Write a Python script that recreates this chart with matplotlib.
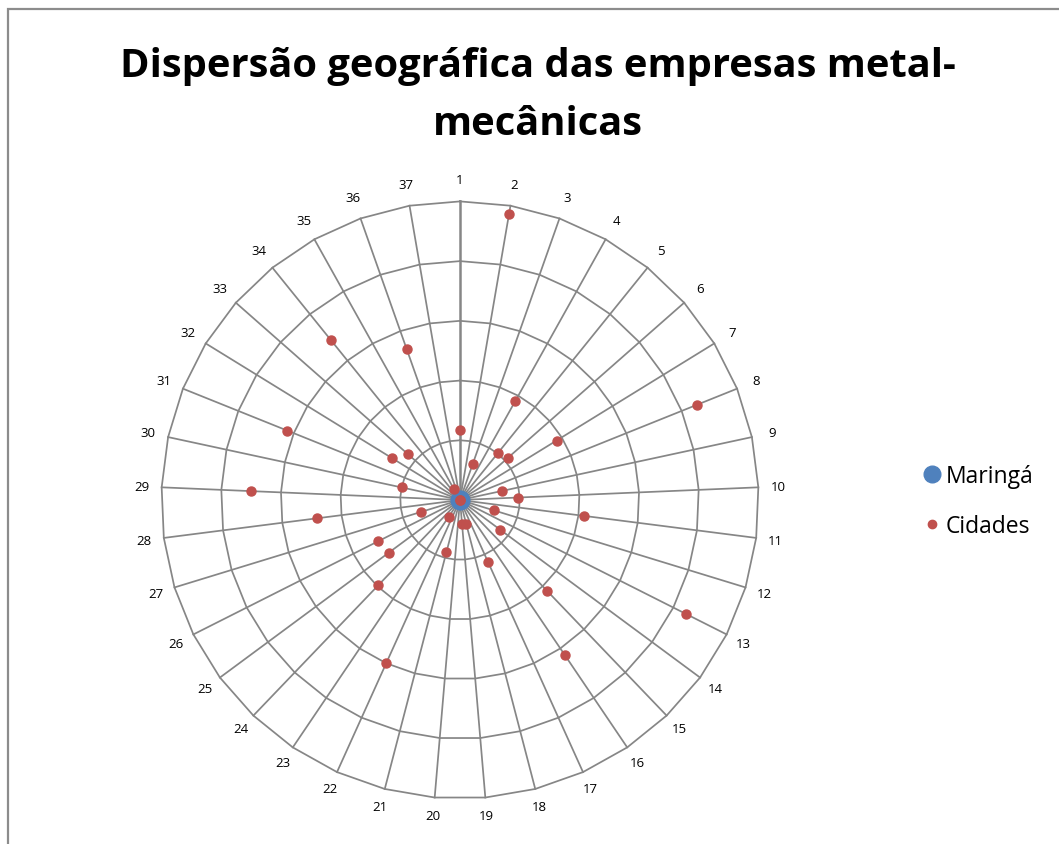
import numpy as np
import matplotlib
matplotlib.use("Agg")
import matplotlib.pyplot as plt
from matplotlib.patches import Rectangle
from matplotlib.lines import Line2D

plt.rcParams['font.family'] = ['Open Sans', 'DejaVu Sans']

# Categories around the radar (1..37)
categories = [str(i) for i in range(1, 38)]

# Distance of each city from the centre (same units as the grid rings)
cidades = [59, 243, 32, 95, 51, 53, 95, 214, 36, 49,
           105, 30, 212, 42, 105, 157, 57, 21, 20, 0,
           45, 150, 17, 99, 74, 77, 34, 121, 175, 50,
           156, 67, 58, 172, 11, 134, 0]

# Maringá sits at the origin
maringa = [0]

ring_values = [50, 100, 150, 200, 250]
r_max = 250

title_lines = ['Dispersão geográfica das empresas metal-', 'mecânicas']

grid_color = '#868686'
red = '#C0504D'
blue = '#4F81BD'

W, H = 1059, 845
fig = plt.figure(figsize=(W / 100, H / 100), dpi=100)

# Outer frame (left and top edges visible)
fig.add_artist(Rectangle((7.5 / W, -0.05), 1.2, 1 - 10 / H + 0.05,
                         transform=fig.transFigure, fill=False,
                         edgecolor='#8c8c8c', lw=1.6))

cx, cy, R = 460, 501, 298.6
ax = fig.add_axes([(cx - R) / W, (H - cy - R) / H, 2 * R / W, 2 * R / H],
                  projection='polar')
ax.set_theta_zero_location('N')
ax.set_theta_direction(-1)
ax.set_ylim(0, r_max)
ax.grid(False)
ax.set_xticks([])
ax.set_yticks([])
ax.spines['polar'].set_visible(False)
ax.patch.set_visible(False)

n = len(categories)
theta = np.arange(n) * 2 * np.pi / n
theta_closed = np.append(theta, theta[0])

# Polygonal rings
for rv in ring_values:
    ax.plot(theta_closed, [rv] * (n + 1), color=grid_color, lw=1.25,
            zorder=1, clip_on=False)
# Spokes
for i, t in enumerate(theta):
    ax.plot([t, t], [0, r_max], color=grid_color,
            lw=1.8 if i == 0 else 1.25, zorder=1, clip_on=False)

# Category labels outside the outer ring
px_per_unit = R / r_max
for t, lab in zip(theta, categories):
    d = 20 + 2 * np.cos(t)
    ax.text(t, r_max + d / px_per_unit, lab, ha='center', va='center',
            fontsize=9.5, color='#000000', clip_on=False)

ax.plot([0] * len(maringa), maringa, 'o', color=blue, ms=13.5,
        ls='none', zorder=3, clip_on=False)
ax.plot(theta, cidades, 'o', color=red, ms=6.5, ls='none', zorder=4,
        clip_on=False)

# Two-line title
for line, base_y in zip(title_lines, [77, 135]):
    fig.text(538 / W, 1 - base_y / H, line, ha='center', va='baseline',
             fontsize=28.7, fontweight='bold')

handles = [Line2D([], [], marker='o', color=blue, ls='none', ms=12),
           Line2D([], [], marker='o', color=red, ls='none', ms=6)]
fig.legend(handles, ['Maringá', 'Cidades'], loc='center left',
           bbox_to_anchor=(910 / W, 1 - 502 / H), frameon=False,
           fontsize=16.5, handletextpad=0.05, handlelength=1.1,
           labelspacing=1.1, borderaxespad=0)

fig.savefig('out.png', dpi=100)
